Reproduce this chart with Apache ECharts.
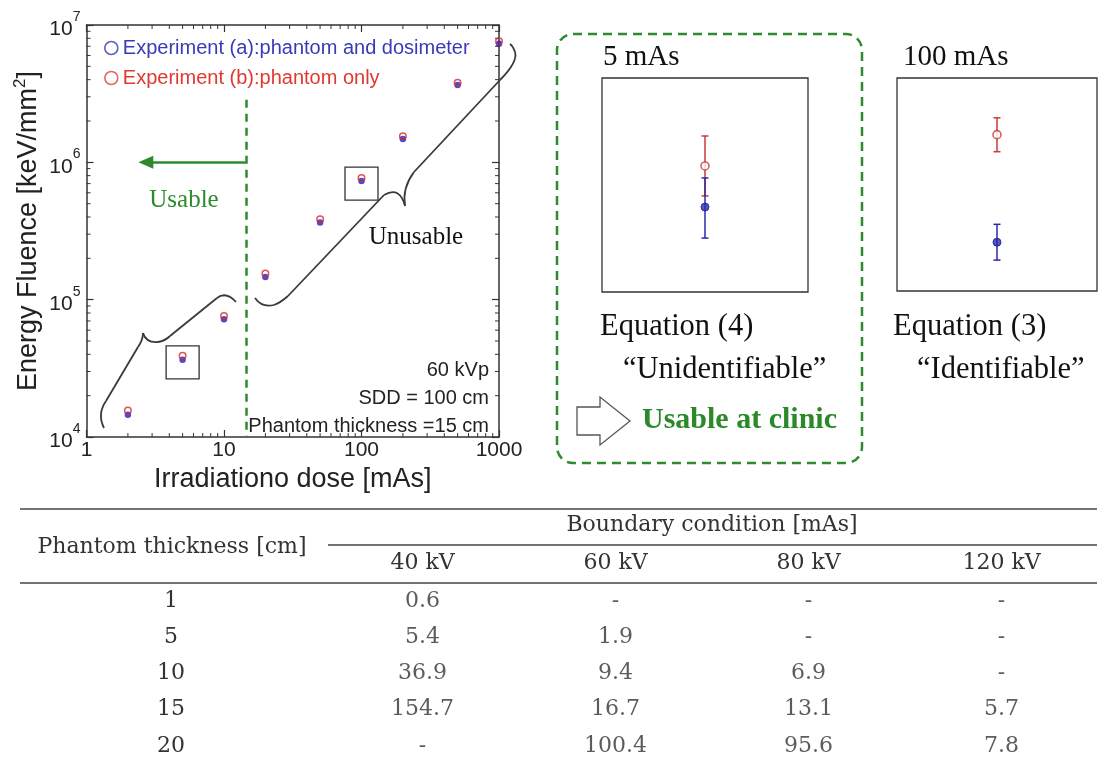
<!DOCTYPE html>
<html><head><meta charset="utf-8">
<script src="https://cdn.jsdelivr.net/npm/echarts@6/dist/echarts.min.js"></script>
<style>html,body{margin:0;padding:0;background:#fff}#c{width:1099px;height:761px}</style>
</head><body><div id="c"></div>
<script>
// ---------- data ----------
const doses = [2, 5, 10, 20, 50, 100, 200, 500, 1000];
const fluenceA = [1.45e4, 3.65e4, 7.2e4, 1.46e5, 3.65e5, 7.3e5, 1.48e6, 3.65e6, 7.3e6]; // (a) phantom and dosimeter
const fluenceB = [1.56e4, 3.9e4, 7.6e4, 1.55e5, 3.85e5, 7.7e5, 1.55e6, 3.8e6, 7.6e6];  // (b) phantom only
const nameA = 'Experiment (a):phantom and dosimeter';
const nameB = 'Experiment (b):phantom only';
const boundaryDose = 14.4;
const boundaryTop = 2.85e6;
const arrowLevel = 1e6;
const arrowTipDose = 2.7;
const highlightDoses = [5, 100];
const minorFactors = [2, 3, 4, 5, 6, 7, 8, 9];
const decadesX = [1, 10, 100];
const decadesY = [1e4, 1e5, 1e6];
const conditions = ['60 kVp', 'SDD = 100 cm', 'Phantom thickness =15 cm'];

// inset panels (relative scale 0-100)
const insetTitles = ['5 mAs', '100 mAs'];
const insetEquations = ['Equation (4)', 'Equation (3)'];
const insetVerdicts = ['\u201cUnidentifiable\u201d', '\u201cIdentifiable\u201d'];
const insetRedMean = [58.9, 73.4];
const insetRedLow = [44.9, 65.4];
const insetRedHigh = [72.9, 81.3];
const insetBlueMean = [39.7, 22.9];
const insetBlueLow = [25.2, 14.5];
const insetBlueHigh = [53.3, 31.3];

// table
const thickness = ['1', '5', '10', '15', '20'];
const kvLabels = ['40 kV', '60 kV', '80 kV', '120 kV'];
const mAs40 = ['0.6', '5.4', '36.9', '154.7', '-'];
const mAs60 = ['-', '1.9', '9.4', '16.7', '100.4'];
const mAs80 = ['-', '-', '6.9', '13.1', '95.6'];
const mAs120 = ['-', '-', '-', '5.7', '7.8'];

// ---------- styles ----------
const SANS = 'Liberation Sans, Arial, sans-serif';
const SERIF = 'Liberation Serif, Times New Roman, serif';
const TSERIF = 'DejaVu Serif, serif';
const INK = '#222';
const GREEN = '#2d8a2d';
const RED = '#d42a2a';
const BLUE = '#1f1fc4';

const chart = echarts.init(document.getElementById('c'), null, {renderer: 'canvas'});

const minorX = [];
decadesX.forEach(d => minorFactors.forEach(f => minorX.push([d * f, 1e4])));
const minorY = [];
decadesY.forEach(d => minorFactors.forEach(f => minorY.push([1, d * f])));

function logAxisBase(extra) {
  return Object.assign({
    type: 'log', logBase: 10,
    axisLine: {show: true, lineStyle: {color: '#333', width: 1.5}},
    axisTick: {show: true, inside: true, length: 7, lineStyle: {color: '#333', width: 1.2}},
    splitLine: {show: false}, minorTick: {show: false}, minorSplitLine: {show: false}
  }, extra);
}
function hiddenValue(grid, min, max) {
  return {type: 'value', gridIndex: grid, min: min, max: max, show: false, splitLine: {show: false}};
}

function errRender(color) {
  return function (params, api) {
    const top = api.coord([api.value(0), api.value(2)]);
    const bot = api.coord([api.value(0), api.value(1)]);
    const w = 3.5;
    const st = {stroke: color, lineWidth: 1.5};
    return {type: 'group', children: [
      {type: 'line', shape: {x1: top[0], y1: top[1], x2: bot[0], y2: bot[1]}, style: st},
      {type: 'line', shape: {x1: top[0] - w, y1: top[1], x2: top[0] + w, y2: top[1]}, style: st},
      {type: 'line', shape: {x1: bot[0] - w, y1: bot[1], x2: bot[0] + w, y2: bot[1]}, style: st}
    ]};
  };
}

const insetSeries = [];
[0, 1].forEach(i => {
  insetSeries.push({
    type: 'custom', xAxisIndex: 2 + i, yAxisIndex: 2 + i, silent: true, clip: false,
    data: [[1, insetRedLow[i], insetRedHigh[i]]], encode: {x: 0, y: [1, 2]},
    renderItem: errRender('#c83a3a')
  });
  insetSeries.push({
    type: 'custom', xAxisIndex: 2 + i, yAxisIndex: 2 + i, silent: true, clip: false,
    data: [[1, insetBlueLow[i], insetBlueHigh[i]]], encode: {x: 0, y: [1, 2]},
    renderItem: errRender('#2a2aa8')
  });
  insetSeries.push({
    type: 'scatter', xAxisIndex: 2 + i, yAxisIndex: 2 + i, silent: true,
    data: [[1, insetRedMean[i]]], symbol: 'circle', symbolSize: 8,
    itemStyle: {color: '#fff', borderColor: '#c83a3a', borderWidth: 1.6}
  });
  insetSeries.push({
    type: 'scatter', xAxisIndex: 2 + i, yAxisIndex: 2 + i, silent: true,
    data: [[1, insetBlueMean[i]]], symbol: 'circle', symbolSize: 8,
    itemStyle: {color: '#2a2ab8', borderColor: '#1a1a90', borderWidth: 1}
  });
});

const tableCols = [mAs40, mAs60, mAs80, mAs120];
const tableData = [];
tableCols.forEach((col, c) => col.forEach((v, r) => tableData.push([kvLabels[c], thickness[r], v])));

const option = {
  animation: false,
  backgroundColor: '#fff',
  grid: [
    {left: 86.5, top: 25, width: 412.5, height: 412, show: false, outerBoundsMode: 'none', containLabel: false},
    {left: 602, top: 78, width: 206, height: 214, show: true, borderColor: '#333', borderWidth: 1.3, backgroundColor: 'transparent', outerBoundsMode: 'none'},
    {left: 897, top: 78, width: 200, height: 213, show: true, borderColor: '#333', borderWidth: 1.3, backgroundColor: 'transparent', outerBoundsMode: 'none'},
    {left: 326, top: 583, width: 772, height: 181, show: false, outerBoundsMode: 'none'}
  ],
  legend: {
    left: 104, top: 38, orient: 'vertical', padding: 0, itemGap: 10,
    itemWidth: 13, itemHeight: 13, selectedMode: false,
    textStyle: {fontSize: 20, fontFamily: SANS},
    data: [
      {name: nameA, icon: 'circle', itemStyle: {color: '#fff', borderColor: '#3434b4', borderWidth: 1.6}, textStyle: {color: '#3a3ab8', fontSize: 20, fontFamily: SANS}},
      {name: nameB, icon: 'circle', itemStyle: {color: '#fff', borderColor: '#e04040', borderWidth: 1.6}, textStyle: {color: '#e0392f', fontSize: 20, fontFamily: SANS}}
    ]
  },
  xAxis: [
    logAxisBase({gridIndex: 0, min: 1, max: 1000, position: 'bottom',
      name: 'Irradiationo dose [mAs]', nameLocation: 'middle', nameGap: 25,
      nameTextStyle: {fontSize: 27, fontFamily: SANS, color: INK},
      axisLabel: {show: true, margin: 3, fontSize: 21, fontFamily: SANS, color: INK,
        showMinLabel: true, showMaxLabel: true,
        formatter: v => String(Math.round(v))}}),
    logAxisBase({gridIndex: 0, min: 1, max: 1000, position: 'top', axisLabel: {show: false}}),
    hiddenValue(1, 0, 2),
    hiddenValue(2, 0, 2),
    {type: 'category', gridIndex: 3, data: kvLabels, position: 'top',
      axisLine: {show: false}, axisTick: {show: false}, splitLine: {show: false},
      axisLabel: {margin: 20, verticalAlign: 'middle', fontSize: 22, fontFamily: TSERIF, color: '#333'}}
  ],
  yAxis: [
    logAxisBase({gridIndex: 0, min: 1e4, max: 1e7, position: 'left',
      name: 'Energy Fluence [keV/mm{sup|2}]', nameLocation: 'middle', nameGap: 38,
      nameTextStyle: {fontSize: 27, fontFamily: SANS, color: INK, lineHeight: 34,
        rich: {sup: {fontSize: 17, fontFamily: SANS, color: INK, verticalAlign: 'top', lineHeight: 18}}},
      axisLabel: {show: true, margin: 6, showMinLabel: true, showMaxLabel: true,
        formatter: v => '{b|10}{s|' + Math.round(Math.log10(v)) + '}',
        rich: {
          b: {fontSize: 21, fontFamily: SANS, color: INK, lineHeight: 30, verticalAlign: 'bottom'},
          s: {fontSize: 14, fontFamily: SANS, color: INK, lineHeight: 16, verticalAlign: 'top'}
        }}}),
    logAxisBase({gridIndex: 0, min: 1e4, max: 1e7, position: 'right', axisLabel: {show: false}}),
    hiddenValue(1, 0, 100),
    hiddenValue(2, 0, 100),
    {type: 'category', gridIndex: 3, data: thickness, inverse: true,
      axisLine: {show: false}, axisTick: {show: false}, splitLine: {show: false},
      axisLabel: {align: 'center', margin: 155, fontSize: 22, fontFamily: TSERIF, color: '#333'}}
  ],
  series: [
    {type: 'custom', xAxisIndex: 0, yAxisIndex: 0, silent: true, clip: false, data: minorX,
      encode: {x: 0, y: 1},
      renderItem: (params, api) => {
        const p = api.coord([api.value(0), 1e4]);
        const cs = params.coordSys;
        const st = {stroke: '#333', lineWidth: 1};
        return {type: 'group', children: [
          {type: 'line', shape: {x1: p[0], y1: cs.y + cs.height, x2: p[0], y2: cs.y + cs.height - 4}, style: st},
          {type: 'line', shape: {x1: p[0], y1: cs.y, x2: p[0], y2: cs.y + 4}, style: st}
        ]};
      }},
    {type: 'custom', xAxisIndex: 0, yAxisIndex: 0, silent: true, clip: false, data: minorY,
      encode: {x: 0, y: 1},
      renderItem: (params, api) => {
        const p = api.coord([1, api.value(1)]);
        const cs = params.coordSys;
        const st = {stroke: '#333', lineWidth: 1};
        return {type: 'group', children: [
          {type: 'line', shape: {x1: cs.x, y1: p[1], x2: cs.x + 4, y2: p[1]}, style: st},
          {type: 'line', shape: {x1: cs.x + cs.width, y1: p[1], x2: cs.x + cs.width - 4, y2: p[1]}, style: st}
        ]};
      }},
    {type: 'scatter', name: nameA, xAxisIndex: 0, yAxisIndex: 0, silent: true,
      data: doses.map((d, i) => [d, fluenceA[i]]), symbol: 'circle', symbolSize: 6.5,
      itemStyle: {color: BLUE},
      markLine: {silent: true, animation: false, symbol: ['none', 'triangle'], symbolSize: [13, 15],
        label: {show: false}, lineStyle: {color: GREEN, width: 2.5, type: 'solid'},
        data: [[{coord: [boundaryDose, arrowLevel]}, {coord: [arrowTipDose, arrowLevel]}]]}},
    {type: 'scatter', name: nameB, xAxisIndex: 0, yAxisIndex: 0, silent: true,
      data: doses.map((d, i) => [d, fluenceB[i]]), symbol: 'circle', symbolSize: 6.5,
      itemStyle: {color: 'rgba(0,0,0,0)', borderColor: RED, borderWidth: 1.5},
      markLine: {silent: true, animation: false, symbol: ['none', 'none'],
        label: {show: false}, lineStyle: {color: GREEN, width: 2.5, type: [8, 6]},
        data: [[{coord: [boundaryDose, boundaryTop]}, {coord: [boundaryDose, 1e4]}]]}},
    ...insetSeries,
    {type: 'scatter', xAxisIndex: 4, yAxisIndex: 4, silent: true, data: tableData,
      symbolSize: 1, itemStyle: {color: 'rgba(0,0,0,0)'},
      label: {show: true, position: 'inside', formatter: p => p.value[2],
        fontSize: 22, fontFamily: TSERIF, color: '#333'}}
  ]
};
chart.setOption(option);

// ---------- annotations ----------
function txt(x, y, text, font, extra) {
  return {type: 'text', x: x, y: y, silent: true, z: 50,
    style: Object.assign({text: text, fill: INK, align: 'left', verticalAlign: 'middle'}, font, extra || {})};
}
const braceStyle = {stroke: '#3a3a3a', lineWidth: 1.8, fill: null};
function brace(segs) {
  return segs.map(s => s[0] === 'L'
    ? {type: 'line', silent: true, z: 40, shape: {x1: s[1], y1: s[2], x2: s[3], y2: s[4]}, style: braceStyle}
    : {type: 'bezierCurve', silent: true, z: 40, shape: {x1: s[1], y1: s[2], cpx1: s[3], cpy1: s[4], x2: s[5], y2: s[6]}, style: braceStyle});
}
const lowerBrace = [
  ['Q', 104, 428, 97, 414, 106, 401], ['L', 106, 401, 138, 347],
  ['Q', 138, 347, 143, 340, 143, 333], ['Q', 143, 333, 146, 343, 158, 342],
  ['Q', 158, 342, 165, 341, 170, 336], ['L', 170, 336, 217, 298],
  ['Q', 217, 298, 226, 291, 236, 302]
];
const upperBrace = [
  ['Q', 255, 298, 262, 308, 274, 305], ['Q', 274, 305, 280, 303, 288, 296],
  ['L', 288, 296, 384, 195], ['Q', 384, 195, 400, 186, 405, 206],
  ['Q', 405, 206, 402, 188, 414, 172], ['L', 414, 172, 500, 80],
  ['Q', 500, 80, 518, 62, 515, 52], ['Q', 515, 52, 513, 46, 510, 44]
];

const g = [];
// table rules
const rule = {stroke: '#444', lineWidth: 1.6};
g.push({type: 'line', silent: true, shape: {x1: 20, y1: 509, x2: 1097, y2: 509}, style: rule});
g.push({type: 'line', silent: true, shape: {x1: 328, y1: 545, x2: 1097, y2: 545}, style: rule});
g.push({type: 'line', silent: true, shape: {x1: 20, y1: 583, x2: 1097, y2: 583}, style: rule});
g.push(txt(172, 547, 'Phantom thickness [cm]', {fontSize: 22, fontFamily: TSERIF}, {align: 'center', fill: '#333'}));
g.push(txt(712, 525, 'Boundary condition [mAs]', {fontSize: 22, fontFamily: TSERIF}, {align: 'center', fill: '#333'}));
// inset frame
g.push({type: 'rect', silent: true, shape: {x: 557, y: 34, width: 305, height: 429, r: 16},
  style: {fill: null, stroke: GREEN, lineWidth: 2.5, lineDash: [9, 6]}});
const insetLeft = [603, 903];
const eqLeft = [600, 893];
const verdictLeft = [623, 917];
[0, 1].forEach(i => {
  g.push(txt(insetLeft[i], 57, insetTitles[i], {fontSize: 29, fontFamily: SERIF}, {fill: '#111'}));
  g.push(txt(eqLeft[i], 327, insetEquations[i], {fontSize: 30.5, fontFamily: SERIF}, {fill: '#111'}));
  g.push(txt(verdictLeft[i], 370, insetVerdicts[i], {fontSize: 30.5, fontFamily: SERIF}, {fill: '#111'}));
});
g.push({type: 'polygon', silent: true, shape: {points: [[577, 407], [600, 407], [600, 397], [630, 421], [600, 445], [600, 435], [577, 435]]},
  style: {fill: '#fff', stroke: '#555', lineWidth: 1.3}});
g.push(txt(642, 420, 'Usable at clinic', {fontSize: 30, fontFamily: SERIF, fontWeight: 'bold'}, {fill: '#2a8a2a'}));
// main chart annotations
g.push(txt(184, 200, 'Usable', {fontSize: 25, fontFamily: SERIF}, {align: 'center', fill: GREEN}));
g.push(txt(416, 237, 'Unusable', {fontSize: 25, fontFamily: SERIF}, {align: 'center', fill: '#111'}));
const condY = [370, 398, 426];
conditions.forEach((t, i) => g.push(txt(489, condY[i], t, {fontSize: 20, fontFamily: SANS}, {align: 'right'})));
brace(lowerBrace).forEach(e => g.push(e));
brace(upperBrace).forEach(e => g.push(e));
highlightDoses.forEach(d => {
  const i = doses.indexOf(d);
  const p = chart.convertToPixel({xAxisIndex: 0, yAxisIndex: 0}, [d, fluenceA[i]]);
  g.push({type: 'rect', silent: true, z: 40, shape: {x: p[0] - 16.5, y: p[1] - 14, width: 33, height: 33},
    style: {fill: null, stroke: '#333', lineWidth: 1.3}});
});
chart.setOption({graphic: g});
</script>
</body></html>
